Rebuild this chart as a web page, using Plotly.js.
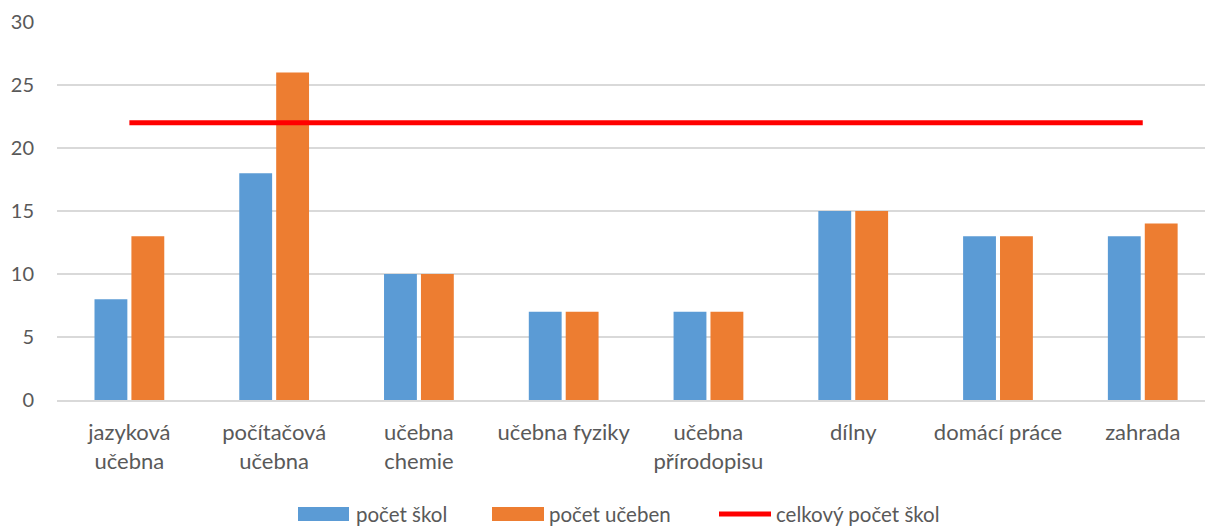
<!DOCTYPE html>
<html>
<head>
<meta charset="utf-8">
<script src="https://cdn.plot.ly/plotly-3.0.1.min.js"></script>
<style>html,body{margin:0;padding:0;background:#fff;}#chart{width:1205px;height:528px;}</style>
</head>
<body>
<div id="chart"></div>
<script>
const categories = ["jazyková<br>učebna", "počítačová<br>učebna", "učebna<br>chemie", "učebna fyziky", "učebna<br>přírodopisu", "dílny", "domácí práce", "zahrada"];
const pocetSkol = [8, 18, 10, 7, 7, 15, 13, 13];
const pocetUceben = [13, 26, 10, 7, 7, 15, 13, 14];
const celkovyPocetSkol = [22, 22, 22, 22, 22, 22, 22, 22];
const seriesNames = ["počet škol", "počet učeben", "celkový počet škol"];
const colors = ["#5B9BD5", "#ED7D31", "#FF0000"];

const fam = "Lato, 'Open Sans', sans-serif";
const gray = "#595959";

const traces = [
  {type: "bar", name: seriesNames[0], x: categories, y: pocetSkol, marker: {color: colors[0]}, showlegend: false},
  {type: "bar", name: seriesNames[1], x: categories, y: pocetUceben, marker: {color: colors[1]}, showlegend: false},
  {type: "scatter", mode: "lines", name: seriesNames[2], x: categories, y: celkovyPocetSkol,
   line: {color: colors[2], width: 5}, showlegend: false}
];

// Custom legend (wide swatches like the reference), positioned in pixels below plot
const W = 1205, H = 528, mL = 57, mR = 0, mT = 22, mB = 128;
const pw = W - mL - mR, ph = H - mT - mB;
const px = x => (x - mL) / pw;
const py = y => (H - mB - y) / ph;
const legY = 514;
const legendItems = [
  {x0: 298, x1: 349, tx: 354, kind: "rect"},
  {x0: 492, x1: 544, tx: 547, kind: "rect"},
  {x0: 719, x1: 771, tx: 774, kind: "line"}
];
const shapes = [];
const annotations = [];
legendItems.forEach((it, i) => {
  if (it.kind === "rect") {
    shapes.push({type: "rect", xref: "paper", yref: "paper", x0: px(it.x0), x1: px(it.x1),
      y0: py(legY - 7), y1: py(legY + 7), fillcolor: colors[i], line: {width: 0}});
  } else {
    shapes.push({type: "line", xref: "paper", yref: "paper", x0: px(it.x0), x1: px(it.x1),
      y0: py(legY), y1: py(legY), line: {color: colors[i], width: 5}});
  }
  annotations.push({xref: "paper", yref: "paper", x: px(it.tx), y: py(legY), xanchor: "left", yanchor: "middle",
    text: seriesNames[i], showarrow: false, font: {family: fam, size: 20.5, color: gray}});
});

const layout = {
  width: W, height: H,
  margin: {l: mL, r: mR, t: mT, b: mB, autoexpand: false},
  paper_bgcolor: "#fff", plot_bgcolor: "#fff",
  font: {family: fam, size: 18, color: gray},
  barmode: "group",
  bargap: 0.49,
  bargroupgap: 0.11,
  showlegend: false,
  shapes: shapes,
  annotations: annotations,
  xaxis: {type: "category", range: [-0.5, 7.43], showgrid: false, showline: true, automargin: false,
          linecolor: "#D9D9D9", linewidth: 1.5, ticks: "", ticklabelstandoff: 12,
          tickfont: {family: fam, size: 22, color: gray}, fixedrange: true},
  yaxis: {range: [0, 30], dtick: 5, showgrid: true, gridcolor: "#D9D9D9", gridwidth: 1.5, automargin: false,
          zeroline: false, showline: false, ticks: "", ticklabelstandoff: 22,
          tickfont: {family: fam, size: 20, color: gray}}
};

Plotly.newPlot("chart", traces, layout, {displayModeBar: false, staticPlot: true});
</script>
</body>
</html>
